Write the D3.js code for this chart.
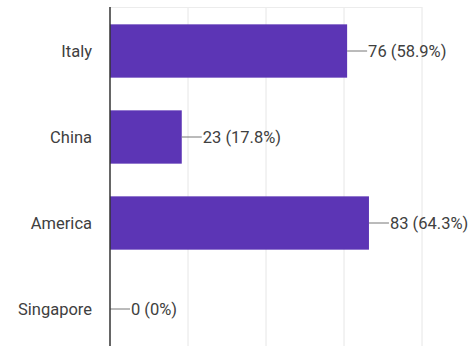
<!DOCTYPE html>
<html>
<head>
<meta charset="utf-8">
<script src="https://cdn.jsdelivr.net/npm/d3@7"></script>
<style>
  html, body { margin: 0; padding: 0; background: #fff; }
  svg { display: block; font-family: Roboto, "Noto Sans", sans-serif; }
</style>
</head>
<body>
<svg id="chart" width="473" height="346"></svg>
<script>
// Responses per country
const categories = ["Italy", "China", "America", "Singapore"];
const counts = [76, 23, 83, 0];
const percents = ["58.9%", "17.8%", "64.3%", "0%"];
const xTicks = [0, 25, 50, 75, 100];

const svg = d3.select("#chart");
const plotLeft = 110, plotRight = 422, plotTop = 7, plotBottom = 346;
const fontSize = 16.5;

const x = d3.scaleLinear().domain([0, 100]).range([plotLeft, plotRight]);
const y = d3.scaleBand().domain(categories).range([8, 352])
  .paddingInner(0.38).paddingOuter(0.19);

// vertical gridlines
svg.append("g").selectAll("line").data(xTicks.slice(1)).join("line")
  .attr("x1", d => x(d)).attr("x2", d => x(d))
  .attr("y1", plotTop).attr("y2", plotBottom)
  .attr("stroke", "#e6e6e6").attr("stroke-width", 1);

// top border of the plot area
svg.append("line")
  .attr("x1", plotLeft).attr("x2", x(100))
  .attr("y1", plotTop + 0.5).attr("y2", plotTop + 0.5)
  .attr("stroke", "#ececec").attr("stroke-width", 1);

// bars
svg.append("g").selectAll("rect").data(categories).join("rect")
  .attr("x", x(0))
  .attr("y", d => y(d))
  .attr("width", (d, i) => x(counts[i]) - x(0))
  .attr("height", y.bandwidth())
  .attr("fill", "#5c35b5");

// category labels
svg.append("g").selectAll("text").data(categories).join("text")
  .attr("x", plotLeft - 18)
  .attr("y", d => y(d) + y.bandwidth() / 2)
  .attr("text-anchor", "end")
  .attr("dominant-baseline", "central")
  .attr("font-size", fontSize)
  .attr("fill", "#404040")
  .text(d => d);

// leader lines and value labels
const vals = svg.append("g");
categories.forEach((c, i) => {
  const cy = y(c) + y.bandwidth() / 2;
  const x0 = x(counts[i]);
  vals.append("line")
    .attr("x1", x0).attr("x2", x0 + 20)
    .attr("y1", cy).attr("y2", cy)
    .attr("stroke", "#777").attr("stroke-width", 1);
  vals.append("text")
    .attr("x", x0 + 21)
    .attr("y", cy)
    .attr("dominant-baseline", "central")
    .attr("font-size", fontSize)
    .attr("fill", "#404040")
    .text(`${counts[i]} (${percents[i]})`);
});

// value axis baseline
svg.append("line")
  .attr("x1", plotLeft).attr("x2", plotLeft)
  .attr("y1", plotTop).attr("y2", plotBottom)
  .attr("stroke", "#333").attr("stroke-width", 1.5);
</script>
</body>
</html>
